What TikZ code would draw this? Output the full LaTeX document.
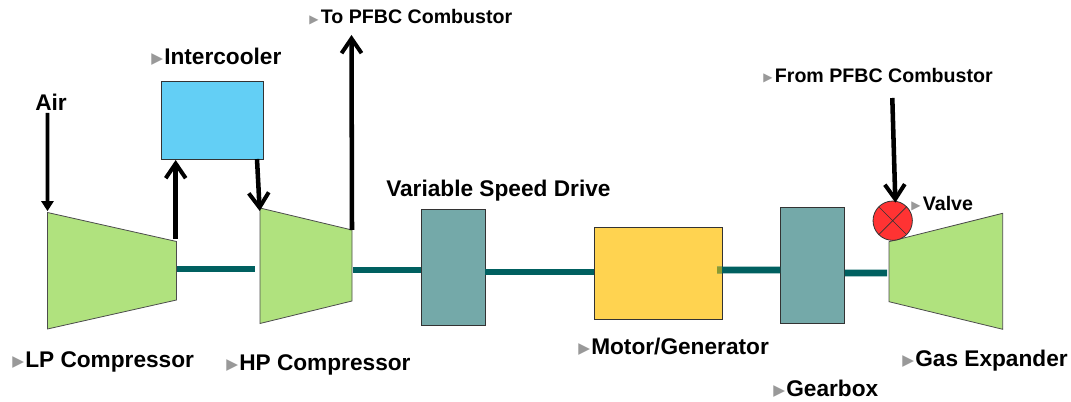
\documentclass[tikz,border=0pt]{standalone}
\usepackage{fontspec}
\setmainfont{Liberation Sans}
\newfontfamily\symfont{DejaVu Sans}
\usepackage{xcolor}
\usetikzlibrary{positioning, arrows.meta}
\definecolor{stagegreen}{HTML}{B0E27E}
\definecolor{coolblue}{HTML}{63CFF5}
\definecolor{drivegray}{HTML}{74A9A9}
\definecolor{motoryellow}{HTML}{FFD350}
\definecolor{valvered}{HTML}{FF3333}
\definecolor{shaftteal}{HTML}{006060}
\definecolor{shaftolive}{HTML}{8A9A30}
\newcommand{\mk}{{\symfont\fontsize{11.5pt}{11.5pt}\selectfont\color{black!40}\raisebox{0.8pt}{▶}}\hspace{0.9pt}}
\newcommand{\mks}{{\symfont\fontsize{9pt}{9pt}\selectfont\color{black!40}\raisebox{0.6pt}{▶}}\hspace{1.8pt}}

\begin{document}
\begin{tikzpicture}[
    x=0.75pt, y=-0.75pt,
    stage/.style={draw=black!70, fill=stagegreen, line width=0.6pt},
    block/.style={rectangle, draw=black!80, line width=0.7pt, inner sep=0pt, outer sep=0pt},
    shaft/.style={draw=shaftteal, line width=5pt},
    bigarrow/.style={draw=black, line width=3.4pt, -{Straight Barb[length=11pt, width=15pt, line width=3pt]}},
    airarrow/.style={draw=black, line width=2.8pt, shorten >=1pt, -{Triangle[length=7.5pt, width=9pt]}},
    biglabel/.style={anchor=base west, inner sep=0pt, font=\fontsize{17pt}{18pt}\selectfont\bfseries},
    smalllabel/.style={anchor=base west, inner sep=0pt, font=\fontsize{14.7pt}{16pt}\selectfont\bfseries}
]
\useasboundingbox (0,0) rectangle (1071,402);

% compressor and expander stages
\draw[stage] (47.5,212.5) coordinate (lptop) -- (176.5,241.5) coordinate (lpout) -- (176.5,300) coordinate (lpshaft) -- (47.5,329) -- cycle;
\draw[stage] (260,208) coordinate (hptop) -- (352,230) coordinate (hpout) -- (352,301) -- (260,323.5) -- cycle;
\draw[stage] (889,241.7) coordinate (gastop) -- (1002.7,213.3) -- (1002.7,329.3) -- (889,301.7) -- cycle;

\node[block, fill=coolblue, minimum width=76.5pt, minimum height=58.5pt] (cooler) at (212.5,120.5) {};
\node[block, fill=drivegray, minimum width=48pt, minimum height=87pt] (vsd) at (453,267) {};
\node[block, fill=motoryellow, minimum width=96pt, minimum height=69pt] (motor) at (658,273) {};
\node[block, fill=drivegray, minimum width=48.3pt, minimum height=87pt] (gearbox) at (812.5,265.3) {};
\node[circle, draw=black!80, fill=valvered, line width=0.6pt, minimum size=29.5pt, inner sep=0pt, outer sep=0pt] (valve) at (892.7,220.7) {};
\draw[black!80, line width=0.5pt] (valve.45) -- (valve.225) (valve.135) -- (valve.315);

% free ends of the connectors
\coordinate (lpend) at (177,269);
\coordinate (lpgap) at (255,269);
\coordinate (hpend) at (353,270);
\coordinate (motorjoin) at (717,270);
\coordinate (gasend) at (887,273);
\coordinate (airstart) at (47.4,113);
\coordinate (coolin) at (175.7,160);
\coordinate (coolout) at (257,159);
\coordinate (lpstart) at (175.7,239);
\coordinate (hptip) at (259.7,211);
\coordinate (pfbcout) at (351.5,35);
\coordinate (pfbcin) at (892.3,98);

\draw[shaft] (lpend) -- (lpgap);
\draw[shaft] (hpend) -- ([yshift=-2.25pt]vsd.west);
\draw[shaft] ([yshift=-3.75pt]vsd.east) -- ([yshift=0.75pt]motor.west);
\draw[shaft] (motorjoin) -- ([yshift=-3.5pt]gearbox.west);
\draw[shaft, draw=shaftolive] (motorjoin) -- ([yshift=2.25pt]motor.east);
\draw[shaft] ([yshift=-5.75pt]gearbox.east) -- (gasend);

\draw[airarrow] (airstart) -- (lptop);
\draw[bigarrow] (lpstart) -- (coolin);
\draw[bigarrow] (coolout) -- (hptip);
\draw[bigarrow] (hpout) -- (pfbcout);
\draw[bigarrow] (pfbcin) -- ([xshift=2pt,yshift=-1.2pt]valve.north);

\node[biglabel] (airlabel) at (35,111) {Air};
\node[biglabel] (coollabel) at (151,64.5) {\mk Intercooler};
\node[smalllabel] (tolabel) at (309,24) {\mks To PFBC Combustor};
\node[smalllabel] (fromlabel) at (763,82.7) {\mks From PFBC Combustor};
\node[smalllabel] (valvelabel) at (911,210.7) {\mks Valve};
\node[biglabel] (vsdlabel) at (386,196.7) {Variable Speed Drive};
\node[biglabel] (lplabel) at (12,367.5) {\mk LP Compressor};
\node[biglabel] (hplabel) at (226,371) {\mk HP Compressor};
\node[biglabel] (motorlabel) at (578,354.5) {\mk Motor/Generator};
\node[biglabel] (gearlabel) at (773,397) {\mk Gearbox};
\node[biglabel] (gaslabel) at (902,367) {\mk Gas Expander};

\end{tikzpicture}
\end{document}
